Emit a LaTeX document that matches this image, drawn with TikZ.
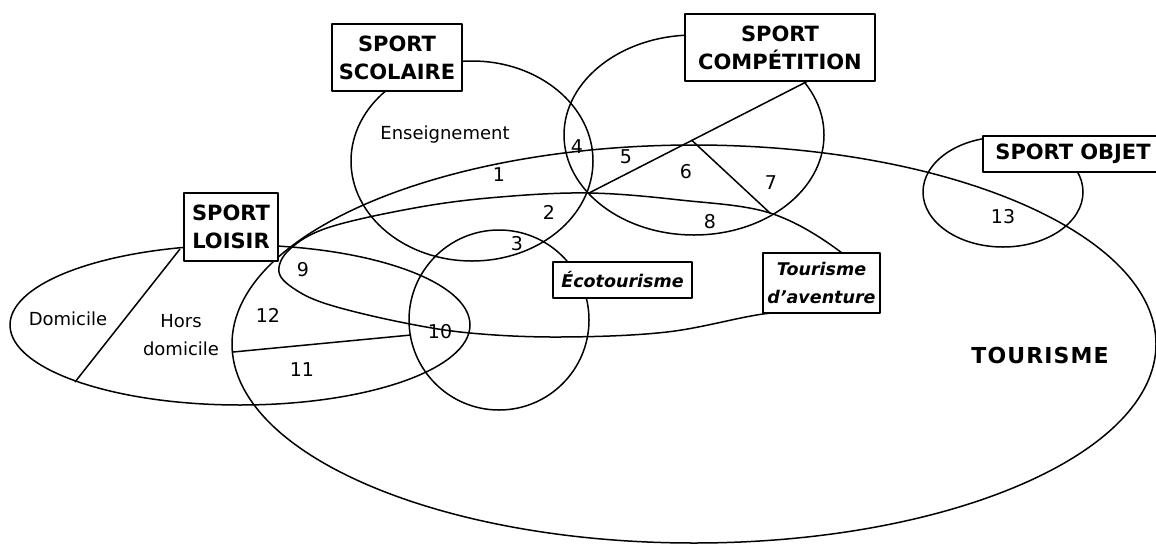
\documentclass[tikz,border=0pt]{standalone}
\usepackage{fontspec}
\setmainfont{DejaVu Sans}
\newcommand{\boxfont}{\fontsize{21}{28}\selectfont\bfseries}
\newcommand{\itbox}{\fontsize{17.5}{28}\selectfont\bfseries\itshape}
\newcommand{\txtfont}{\fontsize{18}{28}\selectfont}
\newcommand{\numfont}{\fontsize{19}{20}\selectfont}
\newcommand{\tourfont}{\fontsize{22}{24}\selectfont\bfseries\addfontfeatures{LetterSpace=5}}
\begin{document}
\begin{tikzpicture}[x=1pt,y=-1pt,line join=round,
  shapeline/.style={line width=1.5pt},
  labbox/.style={draw,line width=1.5pt,fill=white,align=center,inner sep=0pt},
  capbox/.style={labbox,font=\boxfont},
  itlab/.style={labbox,font=\itbox},
  txt/.style={font=\txtfont,align=center,inner sep=0pt},
  num/.style={font=\numfont,inner sep=0pt}]
\useasboundingbox (0,0) rectangle (1156,544);
% --- sets ---
\draw[shapeline] (694,344) ellipse [x radius=462pt, y radius=199pt]; % tourisme
\draw[shapeline] (472,161) ellipse [x radius=121pt, y radius=100pt]; % scolaire
\draw[shapeline] (694,135) ellipse [x radius=130pt, y radius=100pt]; % competition
\draw[shapeline] (1003,192) ellipse [x radius=80pt, y radius=55pt];  % objet
\draw[shapeline] (240,325) ellipse [x radius=230pt, y radius=80pt];  % loisir
\draw[shapeline] (499,320) circle [radius=90pt];                     % ecotourisme
\draw[shapeline] plot[smooth cycle, tension=0.6] coordinates {
  (279,272) (290,249) (330,227) (420,207) (500,197) (589,193) (680,200)
  (770,213) (838,250) (868,285) (830,309) (763,314) (667,332) (560,337)
  (470,333) (400,322) (330,305) (296,290)}; % aventure
% --- dividing lines ---
\coordinate (P) at (589,193);
\coordinate (Q) at (692,140.5);
\coordinate (R) at (770,213);
\coordinate (Ct) at (808,81);
\coordinate (D1) at (180,249);
\coordinate (D2) at (75,382);
\coordinate (H1) at (233,352);
\coordinate (H2) at (411,335);
\draw[shapeline] (P) -- (Ct);
\draw[shapeline] (Q) -- (R);
\draw[shapeline] (D1) -- (D2);
\draw[shapeline] (H1) -- (H2);
% --- boxes ---
\node[capbox,minimum width=130pt,minimum height=67pt] (scol) at (397,57.5) {SPORT\\SCOLAIRE};
\node[capbox,minimum width=190pt,minimum height=67pt] (comp) at (780,47.5) {SPORT\\COMPÉTITION};
\node[capbox,minimum width=94pt,minimum height=68pt] (lois) at (231,227) {SPORT\\LOISIR};
\node[capbox,minimum width=180pt,minimum height=36pt,text width=180pt] (obj) at (1073,154) {SPORT OBJET};
\node[itlab,minimum width=139pt,minimum height=36pt] (eco) at (622.5,280) {Écotourisme};
\node[itlab,minimum width=117pt,minimum height=60pt] (avent) at (821.5,283) {Tourisme\\d’aventure};
% --- texts ---
\node[txt] (ens) at (445,135) {Enseignement};
\node[txt] (dom) at (68,319) {Domicile};
\node[txt] (hors) at (181,335) {Hors\\domicile};
\node[font=\tourfont,inner sep=0pt] (tour) at (1040,355) {TOURISME};
\node[num] (n1) at (499,175) {1};
\node[num] (n2) at (549,212) {2};
\node[num] (n3) at (517,244) {3};
\node[num] (n4) at (577,147) {4};
\node[num] (n5) at (626,157) {5};
\node[num] (n6) at (686,172) {6};
\node[num] (n7) at (771,183) {7};
\node[num] (n8) at (710,222) {8};
\node[num] (n9) at (303,270) {9};
\node[num] (n10) at (440,332) {10};
\node[num] (n11) at (302,370) {11};
\node[num] (n12) at (268,315) {12};
\node[num] (n13) at (1003,217) {13};
\end{tikzpicture}
\end{document}
